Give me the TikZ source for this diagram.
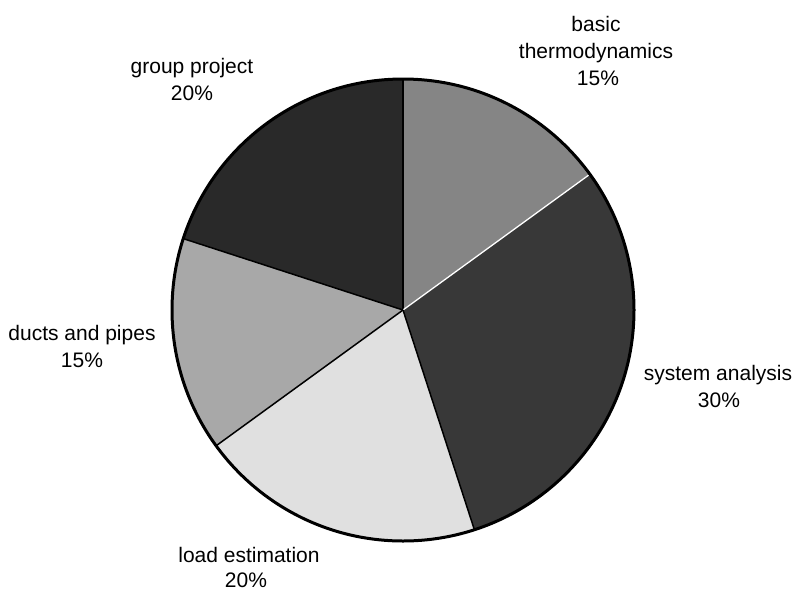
\documentclass[tikz,border=0pt]{standalone}
\usepackage{fontspec}
\setmainfont{Liberation Sans}
\definecolor{cbasic}{gray}{0.52}
\definecolor{csys}{gray}{0.22}
\definecolor{cload}{gray}{0.88}
\definecolor{cduct}{gray}{0.66}
\definecolor{cgroup}{gray}{0.16}
\begin{document}
\begin{tikzpicture}[x=1pt,y=-1pt,
  lbl/.style={anchor=base, inner sep=0pt, font=\fontsize{21}{27}\selectfont},
  radial/.style={draw=black, line width=1.5pt},
  rim/.style={draw=black, line width=3pt}]
\useasboundingbox (0,0) rectangle (794,592);
\fill[white] (0,0) rectangle (794,592);
\begin{scope}[shift={(403,310)}, x=1pt, y=1pt]
  \coordinate (c) at (0,0);
  % slices
  \fill[cbasic] (c) -- (36:231) arc[start angle=36, end angle=90, radius=231] -- cycle;
  \fill[csys] (c) -- (-72:231) arc[start angle=-72, end angle=36, radius=231] -- cycle;
  \fill[cload] (c) -- (-144:231) arc[start angle=-144, end angle=-72, radius=231] -- cycle;
  \fill[cduct] (c) -- (162:231) arc[start angle=162, end angle=216, radius=231] -- cycle;
  \fill[cgroup] (c) -- (90:231) arc[start angle=90, end angle=162, radius=231] -- cycle;
  % dividing lines
  \coordinate (p90) at (90:231);
  \coordinate (p36) at (36:231);
  \coordinate (pm72) at (-72:231);
  \coordinate (pm144) at (-144:231);
  \coordinate (p162) at (162:231);
  \draw[radial] (c) -- (p90);
  \draw[draw=white, line width=1.3pt] (c) -- (p36);
  \draw[radial] (c) -- (pm72);
  \draw[radial] (c) -- (pm144);
  \draw[radial] (c) -- (p162);
  % rim
  \draw[rim] (c) circle[radius=231];
\end{scope}
% labels
\node[lbl] (bt1) at (596,31) {basic};
\node[lbl] (bt2) at (596,58) {thermodynamics};
\node[lbl] (bt3) at (598,85) {15\%};
\node[lbl] (gp1) at (192,73) {group project};
\node[lbl] (gp2) at (192,100) {20\%};
\node[lbl] (dp1) at (82,340) {ducts and pipes};
\node[lbl] (dp2) at (82,367) {15\%};
\node[lbl] (sa1) at (718,380) {system analysis};
\node[lbl] (sa2) at (719,407) {30\%};
\node[lbl] (le1) at (249,562) {load estimation};
\node[lbl] (le2) at (246,587) {20\%};
\end{tikzpicture}
\end{document}
